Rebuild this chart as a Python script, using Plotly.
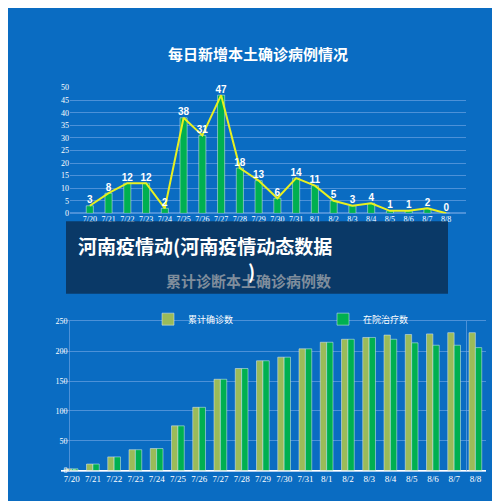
import plotly.graph_objects as go

dates = ["7/20","7/21","7/22","7/23","7/24","7/25","7/26","7/27","7/28","7/29","7/30","7/31","8/1","8/2","8/3","8/4","8/5","8/6","8/7","8/8"]
daily = [3,8,12,12,2,38,31,47,18,13,6,14,11,5,3,4,1,1,2,0]
cumulative = [3,11,23,35,37,75,106,153,171,184,190,204,215,220,223,227,228,229,231,231]
in_hospital = [3,11,23,35,37,75,106,153,171,184,190,204,215,220,223,220,214,210,210,206]

W, H = 500, 501
def px(x): return x / W
def py(y): return 1 - y / H

fig = go.Figure()
fig.add_trace(go.Bar(x=dates, y=daily, marker_color="#00b050", width=0.38, showlegend=False,
                     xaxis="x", yaxis="y"))
fig.add_trace(go.Scatter(x=dates, y=daily, mode="lines+text", line=dict(color="#e8f020", width=2),
                         text=["<b>%d</b>" % v for v in daily], textposition="top center",
                         textfont=dict(color="white", size=10, family="Liberation Sans Narrow, Arial Narrow, sans-serif"),
                         showlegend=False, xaxis="x", yaxis="y", cliponaxis=False))
lf = dict(color="white", size=5)
fig.add_trace(go.Bar(x=dates, y=cumulative, name="累计确诊数", marker_color="#9bbb59", width=0.3,
                     offset=-0.3, text=cumulative, textposition="inside", insidetextanchor="end",
                     textangle=-90, textfont=lf, xaxis="x2", yaxis="y2"))
fig.add_trace(go.Bar(x=dates, y=in_hospital, name="在院治疗数", marker_color="#00b050", width=0.3,
                     offset=0, text=in_hospital, textposition="inside", insidetextanchor="end",
                     textangle=-90, textfont=lf, xaxis="x2", yaxis="y2"))

tick = dict(color="white", size=8, family="Liberation Serif, serif")
grid = "rgba(120,170,230,0.6)"
fig.update_layout(
    width=W, height=H, margin=dict(l=0, r=0, t=0, b=0),
    paper_bgcolor="#0a6cc2", plot_bgcolor="#0a6cc2", barmode="overlay",
    xaxis=dict(domain=[px(62), px(458)], anchor="y", tickfont=tick, showgrid=False, ticks=""),
    yaxis=dict(domain=[py(205), py(77)], range=[0, 50], dtick=5, tickfont=tick, gridcolor=grid,
               zeroline=True, zerolinecolor=grid),
    xaxis2=dict(domain=[px(53), px(478)], anchor="y2", tickfont=dict(color="white", size=9, family="Liberation Serif, serif"),
                showgrid=False, showline=True, linecolor=grid, mirror=True),
    yaxis2=dict(domain=[py(467), py(315)], range=[0, 250], dtick=50, tickfont=tick, gridcolor=grid,
                showline=True, linecolor=grid, mirror=True),
    legend=dict(orientation="h", x=0.28, y=py(298), xanchor="left", yanchor="top",
                font=dict(color="white", size=9), bgcolor="rgba(0,0,0,0)", traceorder="normal",
                itemwidth=30, entrywidth=130),
    font=dict(family="Noto Sans CJK SC"),
)
fig.add_annotation(x=0.5, y=py(30), xref="paper", yref="paper", text="<b>每日新增本土确诊病例情况</b>",
                   showarrow=False, font=dict(color="white", size=15))
fig.add_shape(type="rect", xref="paper", yref="paper", x0=px(58), x1=px(440), y0=py(287), y1=py(213),
              fillcolor="rgba(10,45,80,0.8)", line=dict(width=0), layer="above")
fig.add_annotation(x=0.48, y=py(273), xref="paper", yref="paper", text="<b>累计诊断本土确诊病例数</b>",
                   showarrow=False, font=dict(color="#7f8d9c", size=15))
fig.add_annotation(x=px(68), y=py(238), xref="paper", yref="paper", xanchor="left",
                   text="<b>河南疫情动(河南疫情动态数据</b>", showarrow=False, font=dict(color="white", size=19))
fig.add_annotation(x=px(238), y=py(263), xref="paper", yref="paper", xanchor="left",
                   text="<b>)</b>", showarrow=False, font=dict(color="white", size=19))
fig.write_html("out.html")
